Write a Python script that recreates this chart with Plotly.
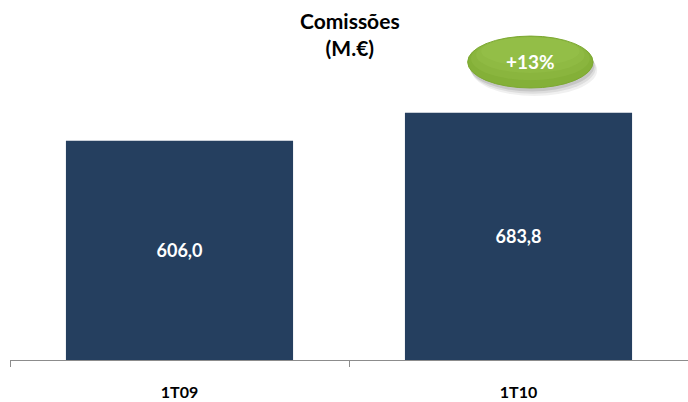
import plotly.graph_objects as go

categories = ["1T09", "1T10"]
values = [606.0, 683.8]
value_labels = ["606,0", "683,8"]
growth_label = "+13%"
title_lines = ["Comissões", "(M.€)"]

BAR = "#253F5F"
FONT = "Lato"

fig = go.Figure()
fig.add_trace(go.Bar(
    x=categories, y=values,
    text=value_labels, textposition="inside", insidetextanchor="middle",
    textfont=dict(family=FONT, size=18, color="white", weight="bold"),
    marker=dict(color=BAR, line=dict(width=0)),
    width=0.67, hoverinfo="skip",
))

# growth ellipse (soft shadow, body, gentle top gradient)
ell = dict(type="circle", xref="x", yref="paper", layer="above")
for dx, dy, a in [(0.012, -0.028, 0.06), (0.008, -0.02, 0.08), (0.004, -0.012, 0.10)]:
    fig.add_shape(**ell, x0=0.85 + dx, x1=1.22 + dx, y0=0.938 + dy, y1=1.117 + dy,
                  fillcolor=f"rgba(0,0,0,{a})", line=dict(width=0))
fig.add_shape(**ell, x0=0.85, x1=1.22, y0=0.938, y1=1.117,
              fillcolor="#84B038", line=dict(color="#7DA932", width=1))
for x0, x1, y0, a in [(0.86, 1.21, 0.965, 0.12), (0.875, 1.195, 0.99, 0.12),
                      (0.89, 1.18, 1.015, 0.12)]:
    fig.add_shape(**ell, x0=x0, x1=x1, y0=y0, y1=1.114,
                  fillcolor=f"rgba(185,220,110,{a})", line=dict(width=0))
fig.add_annotation(x=1.035, xref="x", y=1.028, yref="paper", yanchor="middle",
                   text=growth_label, showarrow=False,
                   font=dict(family=FONT, size=19, color="white", weight="bold"))

fig.add_annotation(x=0.5015, xref="paper", y=(360 - 34) / 290, yref="paper",
                   yanchor="middle", text="<br>".join(title_lines), showarrow=False,
                   font=dict(family=FONT, size=21, color="black", weight="bold"))

fig.update_layout(
    width=688, height=402,
    margin=dict(l=10, r=0, t=70, b=42),
    paper_bgcolor="white", plot_bgcolor="white",
    showlegend=False, bargap=0.33,
    xaxis=dict(showline=True, linecolor="#8C8C8C", linewidth=1,
               ticks="outside", tickson="boundaries", ticklen=6, tickcolor="#8C8C8C",
               ticklabelstandoff=18,
               tickfont=dict(family=FONT, size=16, color="black", weight="bold"),
               showgrid=False, fixedrange=True),
    yaxis=dict(range=[0, 802], visible=False, showgrid=False, fixedrange=True),
)
fig.write_html("out.html")
